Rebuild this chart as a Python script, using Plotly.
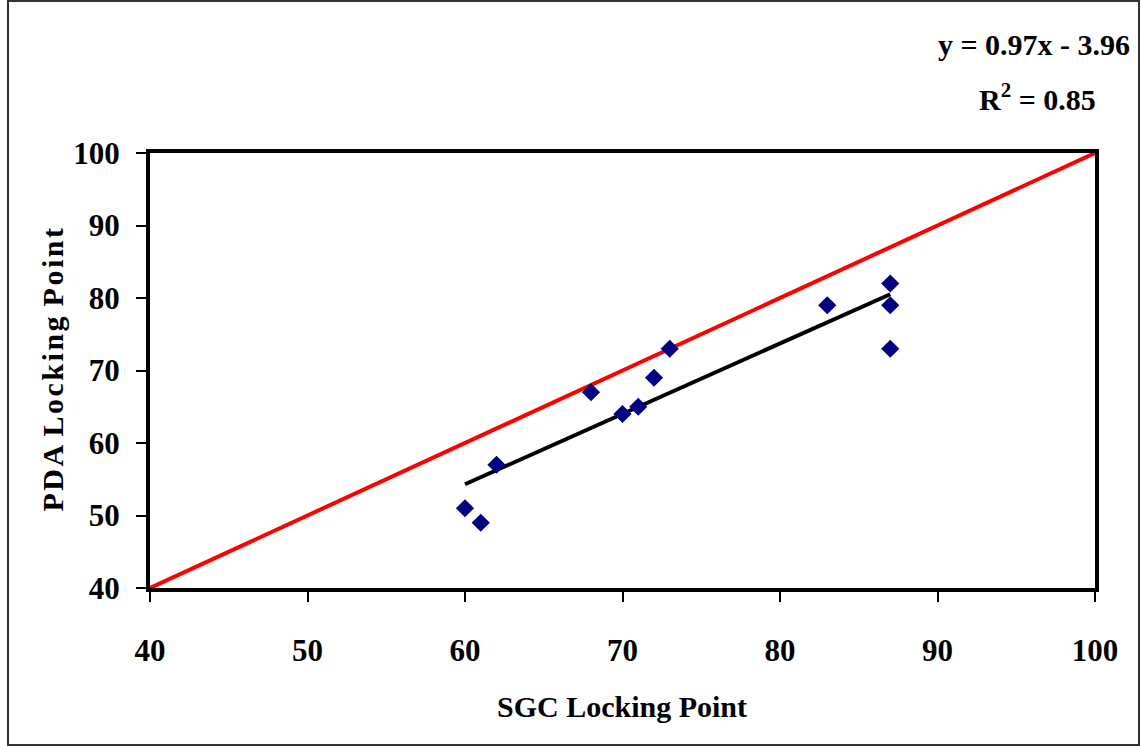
import numpy as np
import plotly.graph_objects as go

# Data
sgc = [60, 61, 62, 68, 70, 71, 72, 73, 83, 87, 87, 87]
pda = [51, 49, 57, 67, 64, 65, 69, 73, 79, 82, 79, 73]
equality = [40, 100]
x_ticks = [40, 50, 60, 70, 80, 90, 100]
y_ticks = [40, 50, 60, 70, 80, 90, 100]
x_title = "SGC Locking Point"
y_title = "PDA Locking Point"
eq_text = "y = 0.97x - 3.96"
r2_text = "R<sup>2</sup> = 0.85"

slope, intercept = np.polyfit(sgc, pda, 1)
fit_x = [min(sgc), max(sgc)]
fit_y = [slope * v + intercept for v in fit_x]

FONT = "Liberation Serif, Times New Roman, serif"

fig = go.Figure()
fig.add_trace(go.Scatter(x=equality, y=equality, mode="lines",
                         line=dict(color="#FF0000", width=4), showlegend=False,
                         cliponaxis=False))
fig.add_trace(go.Scatter(x=fit_x, y=fit_y, mode="lines",
                         line=dict(color="#000000", width=4), showlegend=False))
fig.add_trace(go.Scatter(x=sgc, y=pda, mode="markers",
                         marker=dict(symbol="diamond", size=14, color="#000080"),
                         showlegend=False))

def spaced(s):
    return "\u200a".join(list(s))

tickfont = dict(family=FONT, size=31, color="black", weight="bold")
fig.update_layout(
    width=1141, height=746,
    margin=dict(l=150, r=46, t=153, b=158),
    paper_bgcolor="white", plot_bgcolor="white",
    font=dict(family=FONT, size=30, color="black", weight="bold"),
    xaxis=dict(range=[40, 100], tickvals=x_ticks, ticktext=[str(v) for v in x_ticks],
               showgrid=False, zeroline=False, showline=True, linewidth=4, linecolor="black",
               mirror=True, ticks="outside", ticklen=10, tickwidth=1.5, tickcolor="black",
               ticklabelstandoff=22, layer="below traces", tickfont=tickfont),
    yaxis=dict(range=[40, 100], tickvals=y_ticks, ticktext=[str(v) for v in y_ticks],
               showgrid=False, zeroline=False, showline=True, linewidth=4, linecolor="black",
               mirror=True, ticks="outside", ticklen=10, tickwidth=1.5, tickcolor="black",
               ticklabelstandoff=10, layer="below traces", tickfont=tickfont),
    annotations=[
        dict(text=x_title, xref="paper", yref="paper", x=(622 - 150) / 945, y=(588 - 706) / 435,
             showarrow=False, xanchor="center", yanchor="middle",
             font=dict(family=FONT, size=30, color="black", weight="bold")),
        dict(text=spaced("PDA") + " \u200a" + spaced("Locking") + " \u200a" + spaced("Point"),
             xref="paper", yref="paper", x=(52 - 150) / 945, y=0.5, textangle=-90,
             showarrow=False, xanchor="center", yanchor="middle",
             font=dict(family=FONT, size=30, color="black", weight="bold")),
        dict(text=eq_text, xref="paper", yref="paper", x=(1034 - 150) / 945, y=(588 - 45) / 435,
             showarrow=False, xanchor="center", yanchor="middle",
             font=dict(family=FONT, size=30, color="black", weight="bold")),
        dict(text=r2_text, xref="paper", yref="paper", x=(1037 - 150) / 945, y=(588 - 97) / 435,
             showarrow=False, xanchor="center", yanchor="middle",
             font=dict(family=FONT, size=30, color="black", weight="bold")),
    ],
    shapes=[
        dict(type="rect", xref="paper", yref="paper",
             x0=(8 - 150) / 945, x1=(1139 - 150) / 945,
             y0=(588 - 745) / 435, y1=(588 - 1) / 435,
             line=dict(color="#333333", width=2), layer="below"),
    ],
)

fig.write_html("out.html")
